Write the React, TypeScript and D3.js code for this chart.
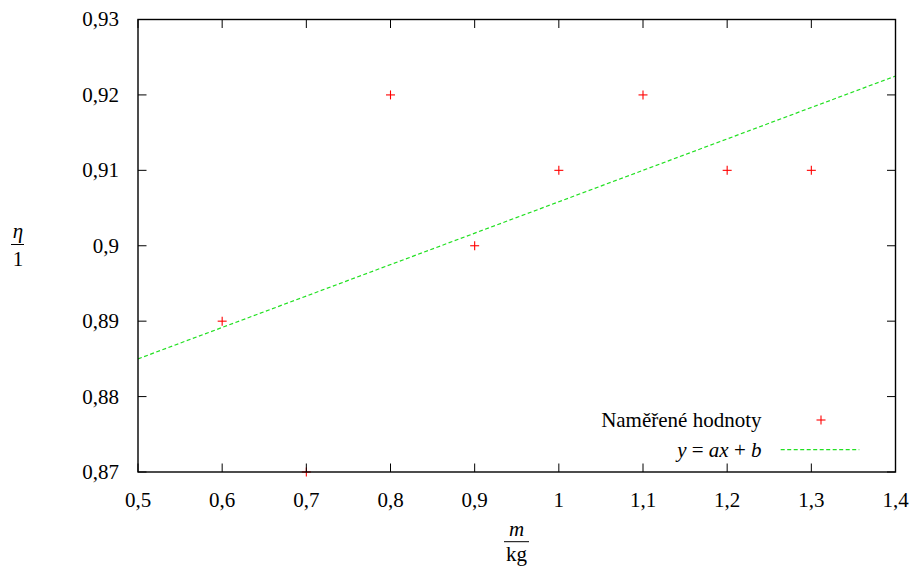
import React from "react";
import * as d3 from "d3";

const massValues = [0.6, 0.7, 0.8, 0.9, 1.0, 1.1, 1.2, 1.3];
const efficiencyValues = [0.89, 0.87, 0.92, 0.9, 0.91, 0.92, 0.91, 0.91];
const xTicks = [0.5, 0.6, 0.7, 0.8, 0.9, 1.0, 1.1, 1.2, 1.3, 1.4];
const yTicks = [0.87, 0.88, 0.89, 0.9, 0.91, 0.92, 0.93];
const fitA = 0.041667;
const fitB = 0.864167;
const fitDomain = [0.5, 1.4];

const W = 913;
const H = 568;
const M = { left: 138, right: 895.5, top: 19.5, bottom: 472 };
const FONT = "Liberation Serif, DejaVu Serif, Times New Roman, serif";
const FS = 21;

const fmt = (v: number) => {
  const s = d3.format(".2~f")(v);
  return s.replace(".", ",");
};

export default function App() {
  const x = d3.scaleLinear().domain([0.5, 1.4]).range([M.left, M.right]);
  const y = d3.scaleLinear().domain([0.87, 0.93]).range([M.bottom, M.top]);
  const tl = 8.5;
  const fitLine = d3
    .line<number>()
    .x((d) => x(d))
    .y((d) => y(fitA * d + fitB));
  const plus = (cx: number, cy: number, key: string) => (
    <g key={key} stroke="#ff0000" strokeWidth={1.1}>
      <line x1={cx - 4.5} x2={cx + 4.5} y1={cy} y2={cy} />
      <line x1={cx} x2={cx} y1={cy - 4.5} y2={cy + 4.5} />
    </g>
  );
  const ts: React.CSSProperties = { fontFamily: FONT, fontSize: FS };
  return (
    <div style={{ position: "absolute", left: 0, top: 0, fontFamily: FONT }}>
      <svg width={W} height={H} style={{ display: "block", background: "#fff", fontFamily: FONT }}>
        <defs>
          <clipPath id="plotclip">
            <rect x={M.left} y={M.top} width={M.right - M.left} height={M.bottom - M.top} />
          </clipPath>
        </defs>
        <path
          d={fitLine(fitDomain) || ""}
          fill="none"
          stroke="#22e022"
          strokeWidth={1.2}
          strokeDasharray="4,2.5"
          clipPath="url(#plotclip)"
        />
        {massValues.map((m, i) => plus(x(m), y(efficiencyValues[i]), "p" + i))}
        <g stroke="#000" strokeWidth={1}>
          {xTicks.map((t, i) => (
            <g key={"xt" + i}>
              <line x1={x(t)} x2={x(t)} y1={M.bottom} y2={M.bottom - tl} />
              <line x1={x(t)} x2={x(t)} y1={M.top} y2={M.top + tl} />
            </g>
          ))}
          {yTicks.map((t, i) => (
            <g key={"yt" + i}>
              <line x1={M.left} x2={M.left + tl} y1={y(t)} y2={y(t)} />
              <line x1={M.right} x2={M.right - tl} y1={y(t)} y2={y(t)} />
            </g>
          ))}
        </g>
        <rect
          x={M.left}
          y={M.top}
          width={M.right - M.left}
          height={M.bottom - M.top}
          fill="none"
          stroke="#000"
          strokeWidth={1.4}
        />
        <g fill="#000">
          {xTicks.map((t, i) => (
            <text key={"xl" + i} style={ts} x={x(t)} y={507} textAnchor="middle">
              {fmt(t)}
            </text>
          ))}
          {yTicks.map((t, i) => (
            <text key={"yl" + i} style={ts} x={119} y={y(t)} dy="0.33em" textAnchor="end">
              {fmt(t)}
            </text>
          ))}
        </g>
        <g fill="#000">
          <text style={ts} x={18} y={238} textAnchor="middle" fontStyle="italic">η</text>
          <line x1={11} x2={24} y1={244.5} y2={244.5} stroke="#000" strokeWidth={1} />
          <text style={ts} x={18} y={266} textAnchor="middle">1</text>
          <text style={ts} x={516.5} y={536} textAnchor="middle" fontStyle="italic">m</text>
          <line x1={504} x2={529} y1={541.7} y2={541.7} stroke="#000" strokeWidth={1} />
          <text style={ts} x={516.5} y={561} textAnchor="middle">kg</text>
        </g>
        <g fill="#000">
          <text style={ts} x={761.5} y={420} dy="0.33em" textAnchor="end">Naměřené hodnoty</text>
          {plus(821, 420, "legp")}
          <text style={ts} x={761.5} y={450} dy="0.33em" textAnchor="end">
            <tspan fontStyle="italic">y</tspan>
            <tspan> = </tspan>
            <tspan fontStyle="italic">ax</tspan>
            <tspan> + </tspan>
            <tspan fontStyle="italic">b</tspan>
          </text>
          <line
            x1={780.7}
            x2={859.3}
            y1={449.6}
            y2={449.6}
            stroke="#22e022"
            strokeWidth={1.2}
            strokeDasharray="4,2.5"
          />
        </g>
      </svg>
    </div>
  );
}
